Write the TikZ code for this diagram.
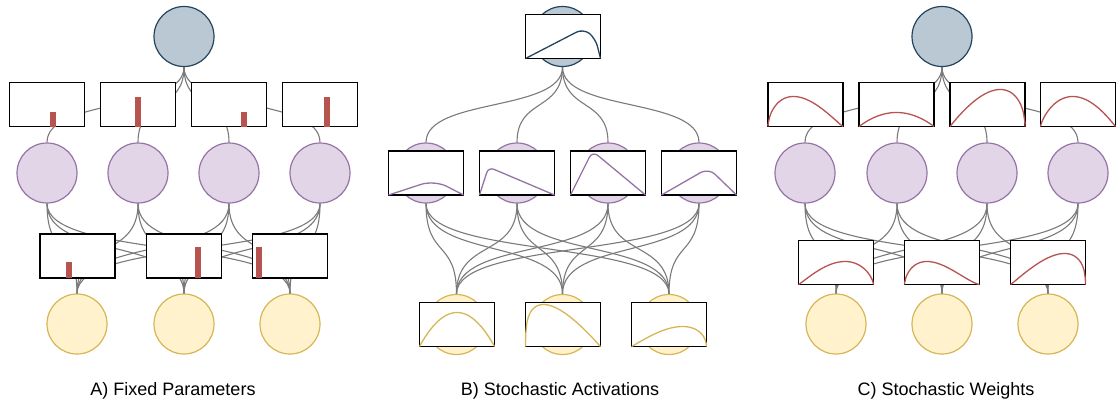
\documentclass[tikz,border=0pt]{standalone}
\usepackage{fontspec}
\setmainfont{Liberation Sans}
\definecolor{topfill}{HTML}{BAC8D3}
\definecolor{topline}{HTML}{23445D}
\definecolor{hidfill}{HTML}{E1D5E7}
\definecolor{hidline}{HTML}{9673A6}
\definecolor{outfill}{HTML}{FFF2CC}
\definecolor{outline}{HTML}{D6B656}
\definecolor{barred}{HTML}{B85450}
\definecolor{linkgray}{HTML}{7A7A7A}
\tikzstyle{tnode} = [circle, draw=topline, fill=topfill, line width=1.2, minimum size=60]
\tikzstyle{hnode} = [circle, draw=hidline, fill=hidfill, line width=1.2, minimum size=60]
\tikzstyle{onode} = [circle, draw=outline, fill=outfill, line width=1.2, minimum size=60]
\tikzstyle{pbox} = [draw, fill=white, line width=1.6, minimum width=75, minimum height=44, inner sep=0, outer sep=0]
\tikzstyle{plink} = [draw=linkgray, line width=1.1]
\tikzstyle{dens} = [line width=1.3, line join=round]
\tikzstyle{wbar} = [fill=barred]
\tikzstyle{caption} = [font=\fontsize{18}{20}\selectfont]

% beta-like density inside a box: node, peak, sharpness, height, colour
\newcommand{\betacurve}[5]{%
  \begin{scope}[shift={(#1.south west)}]
    \draw[dens, #5] (0,0) -- plot[domain=0.002:0.998, samples=60]
      ({75*\x}, {-#4*pow(\x/#2,#3*#2)*pow((1-\x)/(1-#2),#3*(1-#2))}) -- (75,0);
  \end{scope}}

\begin{document}
\begin{tikzpicture}[x=1pt, y=-1pt]
    \useasboundingbox (0,0) rectangle (1118,405);

    % A) fixed parameters
    \node [tnode] (tA) at (184,36.5) {};
    \node [hnode] (hA1) at (47,173) {};
    \node [hnode] (hA2) at (138,173) {};
    \node [hnode] (hA3) at (229,173) {};
    \node [hnode] (hA4) at (320,173) {};
    \node [onode] (oA1) at (77,324) {};
    \node [onode] (oA2) at (184,324) {};
    \node [onode] (oA3) at (290,324) {};

    % B) stochastic activations
    \node [tnode] (tB) at (562.5,36.5) {};
    \node [hnode] (hB1) at (426,173) {};
    \node [hnode] (hB2) at (517,173) {};
    \node [hnode] (hB3) at (608,173) {};
    \node [hnode] (hB4) at (699,173) {};
    \node [onode] (oB1) at (456.5,324.5) {};
    \node [onode] (oB2) at (562.5,324.5) {};
    \node [onode] (oB3) at (669,324.5) {};

    % C) stochastic weights
    \node [tnode] (tC) at (942,36.5) {};
    \node [hnode] (hC1) at (805,173) {};
    \node [hnode] (hC2) at (897,173) {};
    \node [hnode] (hC3) at (987,173) {};
    \node [hnode] (hC4) at (1078,173) {};
    \node [onode] (oC1) at (836,324) {};
    \node [onode] (oC2) at (942,324) {};
    \node [onode] (oC3) at (1048,324) {};

    % connections
    \foreach \p in {A,B,C} {
      \foreach \i in {1,...,4} {
        \draw [plink] (t\p.south) .. controls +(0,45) and +(0,-45) .. (h\p\i.north);
        \foreach \j in {1,2,3}
          \draw [plink] (h\p\i.south) .. controls +(0,55) and +(0,-55) .. (o\p\j.north);
      }
    }

    % weight boxes
    \node [pbox] (wA1) at (47,104.5) {};
    \node [pbox] (wA2) at (138,104.5) {};
    \node [pbox] (wA3) at (229,104.5) {};
    \node [pbox] (wA4) at (320,104.5) {};
    \node [pbox] (vA1) at (77.5,256) {};
    \node [pbox] (vA2) at (184,256) {};
    \node [pbox] (vA3) at (290,256) {};

    \fill [wbar] ([xshift=3]wA1.south) rectangle ++(6,-15);
    \fill [wbar] ([xshift=-3]wA2.south) rectangle ++(6,-30);
    \fill [wbar] ([xshift=12]wA3.south) rectangle ++(6,-15);
    \fill [wbar] ([xshift=4]wA4.south) rectangle ++(6,-30);
    \fill [wbar] ([xshift=-11.5]vA1.south) rectangle ++(6,-16);
    \fill [wbar] ([xshift=11]vA2.south) rectangle ++(6,-31);
    \fill [wbar] ([xshift=-34]vA3.south) rectangle ++(6,-31);

    % activation boxes
    \node [pbox] (pB0) at (563,36.5) {};
    \node [pbox] (pB1) at (426,173) {};
    \node [pbox] (pB2) at (517,173) {};
    \node [pbox] (pB3) at (608,173) {};
    \node [pbox] (pB4) at (699,173) {};
    \node [pbox] (qB1) at (457,324.5) {};
    \node [pbox] (qB2) at (563,324.5) {};
    \node [pbox] (qB3) at (669,324.5) {};

    \draw [dens, topline, rounded corners=8] (pB0.south west) -- ++(58,-30) -- ++(12,10) -- (pB0.south east);
    \draw [dens, hidline, rounded corners=14] (pB1.south west) -- ++(46,-15) -- (pB1.south east);
    \draw [dens, hidline, rounded corners=6] (pB2.south west) -- ++(9,-28) -- (pB2.south east);
    \draw [dens, hidline, rounded corners=7] (pB3.south west) -- ++(22,-44) -- (pB3.south east);
    \draw [dens, hidline, rounded corners=9] (pB4.south west) -- ++(47,-27) -- (pB4.south east);
    \betacurve{qB1}{0.5}{2}{34}{outline}
    \betacurve{qB2}{0.24}{1.35}{42}{outline}
    \betacurve{qB3}{0.68}{1.6}{20}{outline}

    % weight distributions
    \node [pbox] (wC1) at (805.5,104.5) {};
    \node [pbox] (wC2) at (896.5,104.5) {};
    \node [pbox] (wC3) at (987.5,104.5) {};
    \node [pbox] (wC4) at (1078,104.5) {};
    \node [pbox] (vC1) at (836,262.5) {};
    \node [pbox] (vC2) at (942,262.5) {};
    \node [pbox] (vC3) at (1048,262.5) {};

    \betacurve{wC1}{0.34}{1.7}{30}{barred}
    \betacurve{wC2}{0.5}{2}{14}{barred}
    \betacurve{wC3}{0.67}{1.5}{37}{barred}
    \betacurve{wC4}{0.43}{1.8}{30}{barred}
    \betacurve{vC1}{0.62}{1.8}{23}{barred}
    \betacurve{vC2}{0.3}{2}{23}{barred}
    \betacurve{vC3}{0.72}{1.5}{31}{barred}

    \node [caption] (labA) at (173,391) {A) Fixed Parameters};
    \node [caption] (labB) at (560,391) {B) Stochastic Activations};
    \node [caption] (labC) at (946,391) {C) Stochastic Weights};
\end{tikzpicture}
\end{document}
